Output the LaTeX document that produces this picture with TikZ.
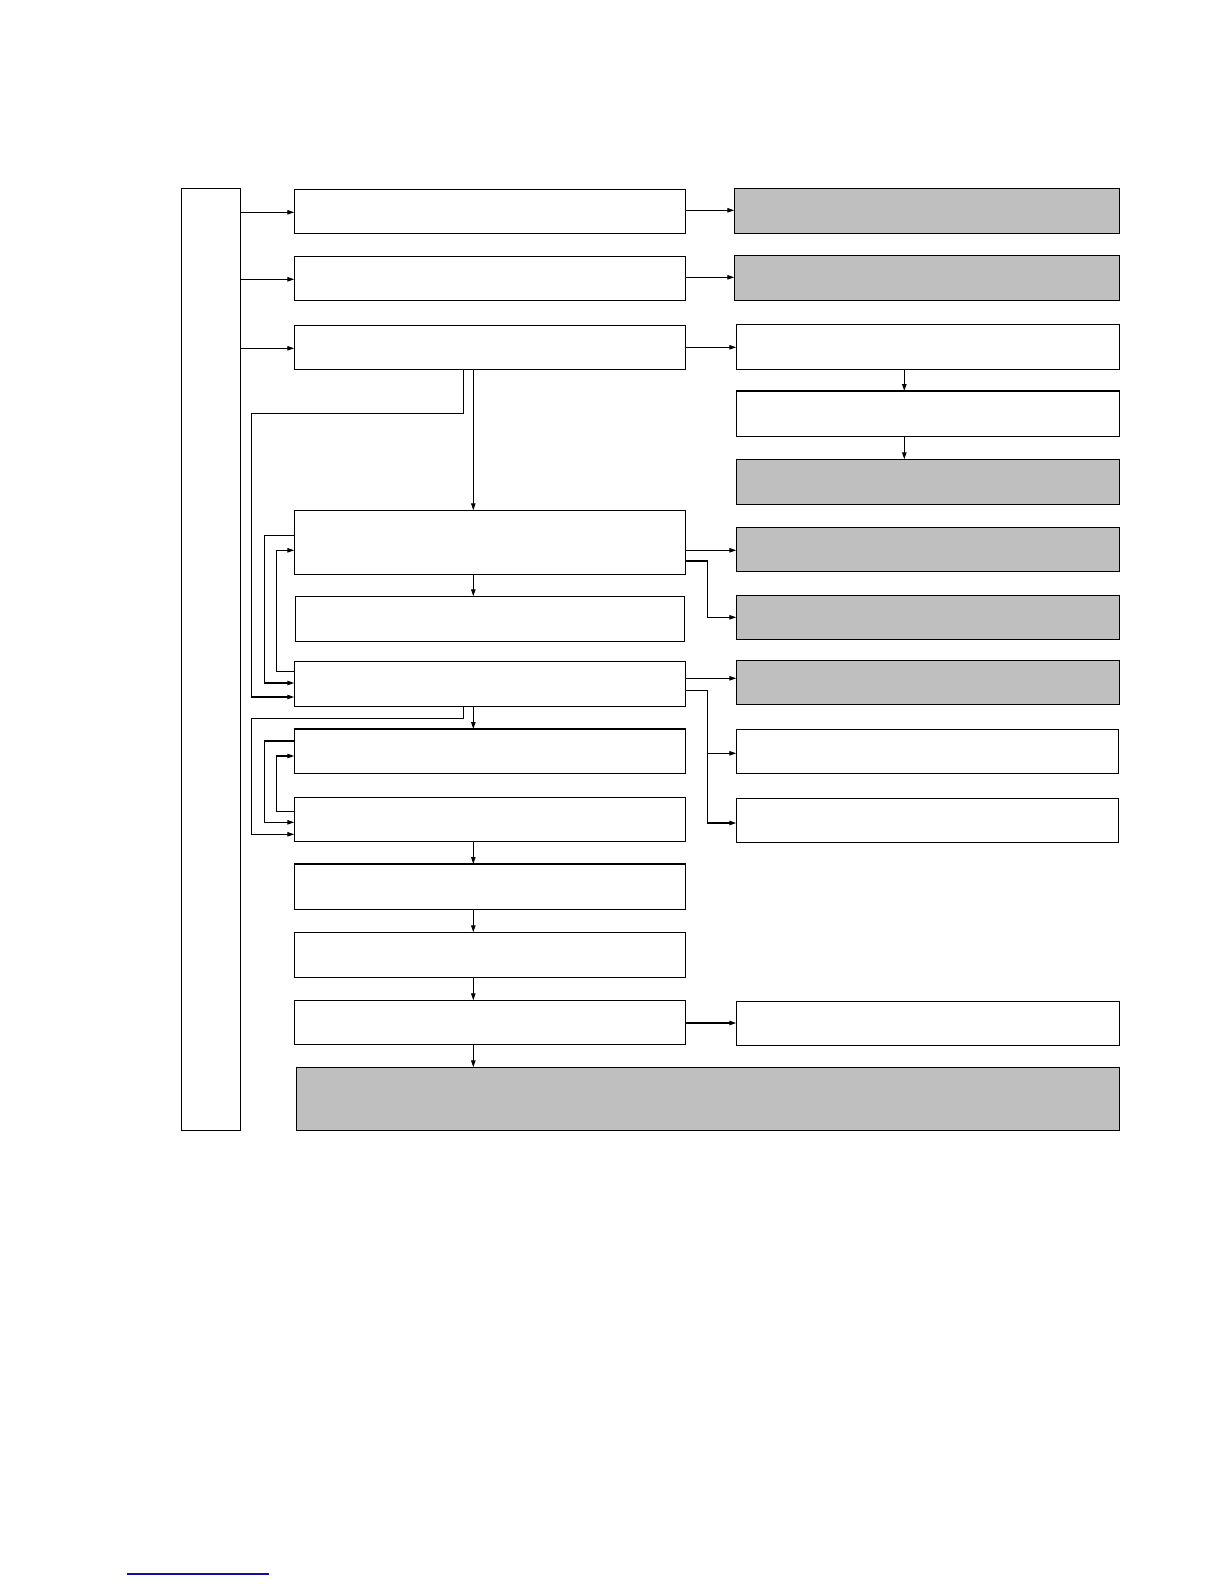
\documentclass[tikz,border=0pt]{standalone}
\usetikzlibrary{arrows.meta}
\definecolor{boxgray}{RGB}{191,191,191}
\definecolor{linkblue}{RGB}{16,16,160}
\newcommand\mybox[6]{\node[#6,minimum width={(#4-#2)*0.5pt},minimum height={(#5-#3)*0.5pt}] (#1) at ({(#2+#4)/2},{(#3+#5)/2}) {};}
\begin{document}
\begin{tikzpicture}[x=0.5pt,y=-0.5pt,line width=0.65pt,
  box/.style={draw,rectangle,inner sep=0pt,outer sep=0pt},
  gbox/.style={box,fill=boxgray},
  arr/.style={-{Triangle[length=3.5pt,width=2.2pt]}}]
\useasboundingbox (0,0) rectangle (1224,1584);

% boxes
\mybox{tall}{181.4}{188.3}{240.4}{1130.3}{box}
\mybox{M1}{294.3}{189.3}{685.5}{233.3}{box}
\mybox{M2}{294.3}{256.3}{685.5}{300.3}{box}
\mybox{M3}{294.3}{325.3}{685.5}{369.3}{box}
\mybox{M4}{294.3}{510.3}{685.5}{574.3}{box}
\mybox{M5}{295.3}{596.3}{684.5}{641.3}{box}
\mybox{M6}{294.3}{661.3}{685.5}{706.3}{box}
\mybox{M7}{294.3}{729.0}{685.5}{773.3}{box}
\mybox{M8}{294.3}{797.3}{685.5}{841.3}{box}
\mybox{M9}{294.3}{864.0}{685.5}{909.3}{box}
\mybox{M10}{294.3}{932.3}{685.5}{977.3}{box}
\mybox{M11}{294.3}{1000.3}{685.5}{1044.3}{box}
\mybox{W}{296.3}{1067.3}{1119.3}{1130.3}{gbox}
\mybox{R1}{734.3}{188.3}{1119.3}{233.3}{gbox}
\mybox{R2}{734.3}{255.3}{1119.3}{300.3}{gbox}
\mybox{R3}{736.3}{324.3}{1119.3}{369.3}{box}
\mybox{R4}{736.3}{391.0}{1119.3}{436.3}{box}
\mybox{R5}{736.3}{459.3}{1119.3}{504.3}{gbox}
\mybox{R6}{736.3}{527.3}{1119.3}{571.3}{gbox}
\mybox{R7}{736.3}{595.3}{1119.3}{639.3}{gbox}
\mybox{R8}{736.3}{660.3}{1119.3}{704.3}{gbox}
\mybox{R9}{736.3}{729.3}{1118.7}{773.3}{box}
\mybox{R10}{736.3}{798.3}{1118.7}{842.3}{box}
\mybox{R11}{736.3}{1001.3}{1119.3}{1045.3}{box}

% helper coordinates
\coordinate (xc) at (473.3,0);
\coordinate (xl) at (463.3,0);
\coordinate (xo) at (251.4,0);
\coordinate (xm) at (264.3,0);
\coordinate (xi) at (276.3,0);
\coordinate (xr) at (707.3,0);
\coordinate (xa) at (904.3,0);
\coordinate (ya1) at (0,212.3);
\coordinate (ya2) at (0,279.3);
\coordinate (ya3) at (0,348.3);
\coordinate (yb1) at (0,210.3);
\coordinate (yb2) at (0,277.3);
\coordinate (yb3) at (0,347.3);
\coordinate (yo1) at (0,413.3);
\coordinate (yo2) at (0,697.0);
\coordinate (yo3) at (0,718.3);
\coordinate (yo4) at (0,834.3);
\coordinate (ym1) at (0,535.3);
\coordinate (ym2) at (0,683.0);
\coordinate (yi1) at (0,671.3);
\coordinate (yi2) at (0,550.3);
\coordinate (ym3) at (0,741.0);
\coordinate (ym4) at (0,822.3);
\coordinate (yi3) at (0,811.3);
\coordinate (yi4) at (0,756.0);
\coordinate (yr1) at (0,550.3);
\coordinate (yr2) at (0,561.0);
\coordinate (yr3) at (0,617.3);
\coordinate (yr4) at (0,678.3);
\coordinate (yr5) at (0,690.3);
\coordinate (yr6) at (0,753.3);
\coordinate (yr7) at (0,823.0);
\coordinate (yr8) at (0,1023.0);

% connectors from the tall box
\draw[arr] (tall.east |- ya1) -- (M1.west |- ya1);
\draw[arr] (tall.east |- ya2) -- (M2.west |- ya2);
\draw[arr] (tall.east |- ya3) -- (M3.west |- ya3);

% top right
\draw[arr] (M1.east |- yb1) -- (R1.west |- yb1);
\draw[arr] (M2.east |- yb2) -- (R2.west |- yb2);
\draw[arr] (M3.east |- yb3) -- (R3.west |- yb3);
\draw[arr] (R3.south -| xa) -- (R4.north -| xa);
\draw[arr] (R4.south -| xa) -- (R5.north -| xa);

% middle column
\draw[arr] (M3.south -| xc) -- (M4.north -| xc);
\draw[arr] (M3.south -| xl) -- (xl |- yo1) -- (xo |- yo1) -- (xo |- yo2) -- (M6.west |- yo2);
\draw[arr] (M4.west |- ym1) -- (xm |- ym1) -- (xm |- ym2) -- (M6.west |- ym2);
\draw[arr] (M6.west |- yi1) -- (xi |- yi1) -- (xi |- yi2) -- (M4.west |- yi2);
\draw[arr] (M4.south -| xc) -- (M5.north -| xc);
\draw[arr] (M6.south -| xl) -- (xl |- yo3) -- (xo |- yo3) -- (xo |- yo4) -- (M8.west |- yo4);
\draw[arr] (M6.south -| xc) -- (M7.north -| xc);
\draw[arr] (M7.west |- ym3) -- (xm |- ym3) -- (xm |- ym4) -- (M8.west |- ym4);
\draw[arr] (M8.west |- yi3) -- (xi |- yi3) -- (xi |- yi4) -- (M7.west |- yi4);
\draw[arr] (M8.south -| xc) -- (M9.north -| xc);
\draw[arr] (M9.south -| xc) -- (M10.north -| xc);
\draw[arr] (M10.south -| xc) -- (M11.north -| xc);
\draw[arr] (M11.south -| xc) -- (W.north -| xc);

% right branches
\draw[arr] (M4.east |- yr1) -- (R6.west |- yr1);
\draw[arr] (M4.east |- yr2) -- (xr |- yr2) -- (xr |- yr3) -- (R7.west |- yr3);
\draw[arr] (M6.east |- yr4) -- (R8.west |- yr4);
\draw[arr] (M6.east |- yr5) -- (xr |- yr5) -- (xr |- yr7) -- (R10.west |- yr7);
\draw[arr] (xr |- yr6) -- (R9.west |- yr6);
\draw[arr] (M11.east |- yr8) -- (R11.west |- yr8);

% blue rule at the bottom
\draw[linkblue,line width=0.8pt] (127,1574) -- (269,1574);
\end{tikzpicture}
\end{document}
